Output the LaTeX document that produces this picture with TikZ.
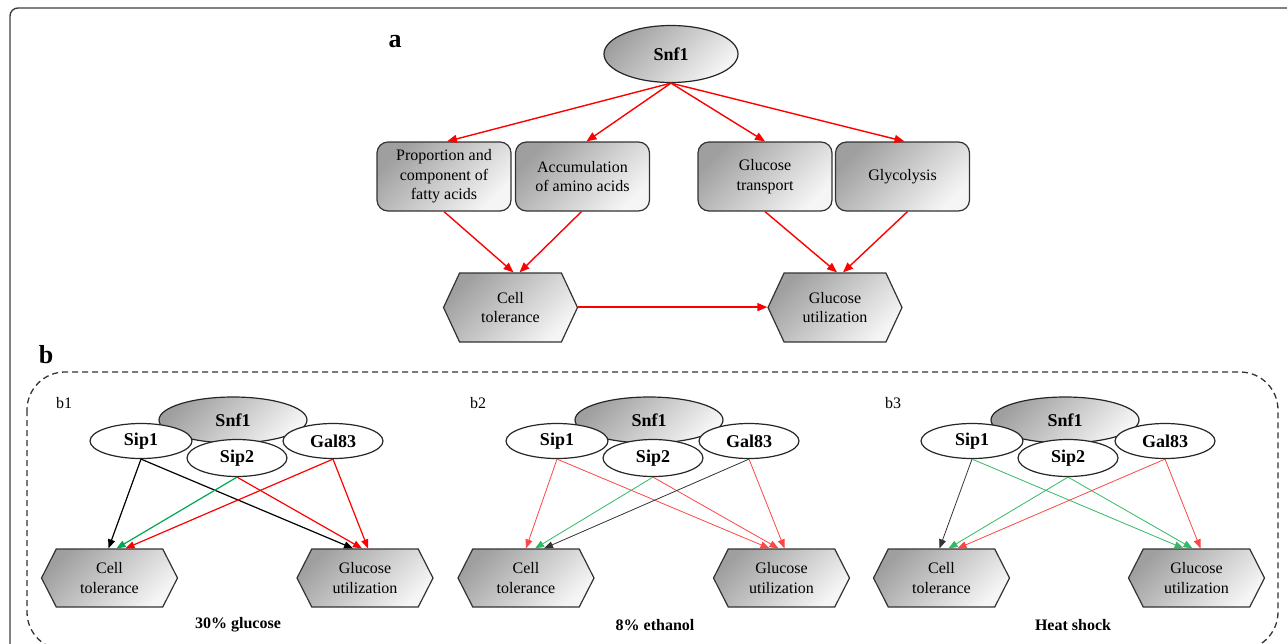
\documentclass[tikz,border=0pt]{standalone}
\usepackage{fontspec}
\setmainfont{Liberation Serif}
\usepackage{xcolor}
\usepackage{tikz}
\usetikzlibrary{positioning,shapes.geometric,shapes.symbols,arrows.meta}

\definecolor{linkred}{RGB}{255,0,0}
\definecolor{linkgreen}{RGB}{0,166,81}
\definecolor{lightred}{RGB}{255,70,70}
\definecolor{lightgreen}{RGB}{50,185,100}
\definecolor{framegray}{RGB}{128,128,128}

\begin{document}
\begin{tikzpicture}[x=1pt, y=-1pt,
  grayfill/.style={top color=gray!75, bottom color=gray!8, shading angle=45},
  roundbox/.style={grayfill, draw=black!80, line width=1.2pt, rounded corners=11pt, minimum width=134pt, minimum height=69pt, inner sep=0pt, align=center, font=\fontsize{16}{19.5}\selectfont},
  hexnode/.style={grayfill, signal, signal to=west and east, signal pointer angle=126, draw=black!80, line width=1.2pt, minimum width=136pt, minimum height=58pt, inner sep=0pt, align=center, font=\fontsize{16}{19.5}\selectfont},
  snfnode/.style={ellipse, grayfill, draw=black!85, line width=1.2pt, inner sep=0pt, font=\bfseries\fontsize{18}{20}\selectfont},
  subnode/.style={ellipse, fill=white, draw=black!85, line width=1.2pt, inner sep=0pt, minimum width=100pt, minimum height=35pt, font=\bfseries\fontsize{18}{20}\selectfont},
  redarrow/.style={-{Triangle[length=10pt,width=8pt]}, draw=linkred, fill=linkred, line width=1.4pt},
  linkbase/.style={-{Triangle[length=9pt,width=7pt]}, line width=1.2pt},
  thinlink/.style={linkbase, line width=0.8pt},
  panellabel/.style={font=\fontsize{16}{18}\selectfont},
  condlabel/.style={font=\bfseries\fontsize{16}{18}\selectfont}]

\useasboundingbox (0,0) rectangle (1287,643);
\clip (0,0) rectangle (1287,643);

% outer frame
\draw[black!75, line width=1.4pt, rounded corners=8pt] (30,8) -- (10,8) -- (10,650);
\draw[framegray, line width=2.4pt] (18,8) -- (1290,8);

% part a
\node[font=\bfseries\fontsize{26}{28}\selectfont] at (395, 42) (labA) {a};
\node[snfnode, minimum width=134pt, minimum height=57pt] at (671, 54) (snfA) {Snf1};
\node[roundbox] at (444, 176.5) (fatty) {Proportion and\\component of\\fatty acids};
\node[roundbox] at (582.5, 176.5) (amino) {Accumulation\\of amino acids};
\node[roundbox] at (765, 176.5) (transport) {Glucose\\transport};
\node[roundbox] at (902.5, 176.5) (glyco) {Glycolysis};
\node[hexnode, minimum width=134pt, minimum height=69pt, signal pointer angle=130] at (510.5, 307.5) (tolA) {Cell\\tolerance};
\node[hexnode, minimum width=134pt, minimum height=69pt, signal pointer angle=130] at (835, 307.5) (utilA) {Glucose\\utilization};
\draw[redarrow] ([yshift=0.4pt]tolA.east) -- ([yshift=0.4pt]utilA.west);
\draw[redarrow] (snfA.south) -- ([xshift=3pt]fatty.north);
\draw[redarrow] (snfA.south) -- ([xshift=4pt]amino.north);
\draw[redarrow] (snfA.south) -- (transport.north);
\draw[redarrow] (snfA.south) -- ([xshift=2pt]glyco.north);
\draw[redarrow] (fatty.south) -- ([xshift=3pt]tolA.north);
\draw[redarrow] ([xshift=-1pt]amino.south) -- ([xshift=9pt]tolA.north);
\draw[redarrow] (transport.south) -- ([xshift=2pt]utilA.north);
\draw[redarrow] ([xshift=5pt]glyco.south) -- ([xshift=8pt]utilA.north);

% part b
\node[font=\bfseries\fontsize{26}{28}\selectfont] at (46, 355) (labB) {b};
\draw[black!80, line width=1.3pt, dash pattern=on 6pt off 4pt, rounded corners=38pt] (27,372) rectangle (1278,650);

% b1: 30% glucose
\node[panellabel] at (64, 403) (labB1) {b1};
\node[snfnode, minimum width=148pt, minimum height=46pt] at (233, 420) (snf1) {Snf1};
\node[subnode, minimum width=102pt] at (141, 441) (sipa1) {Sip1};
\node[subnode] at (333, 441) (gal1) {Gal83};
\node[subnode, minimum height=37pt] at (237, 458) (sipb1) {Sip2};
\node[hexnode] at (109.5, 578) (tol1) {Cell\\tolerance};
\node[hexnode] at (365, 578) (util1) {Glucose\\utilization};
\node[condlabel] at (238, 625) (cond1) {30\% glucose};
\draw[linkbase, black] (sipa1.south) -- ([xshift=-1pt]tol1.north);
\draw[linkbase, black] (sipa1.south) -- ([xshift=-12pt]util1.north);
\draw[linkbase, linkgreen] (sipb1.south) -- ([xshift=7pt]tol1.north);
\draw[linkbase, linkred] (sipb1.south) -- ([xshift=-3pt]util1.north);
\draw[linkbase, linkred] (gal1.south) -- ([xshift=16pt]tol1.north);
\draw[linkbase, linkred] (gal1.south) -- ([xshift=3pt]util1.north);

% b2: 8% ethanol
\node[panellabel] at (478, 403) (labB2) {b2};
\node[snfnode, minimum width=148pt, minimum height=46pt] at (649, 420) (snf2) {Snf1};
\node[subnode, minimum width=102pt] at (557, 441) (sipa2) {Sip1};
\node[subnode] at (749, 441) (gal2) {Gal83};
\node[subnode, minimum height=37pt] at (653, 458) (sipb2) {Sip2};
\node[hexnode] at (526, 578) (tol2) {Cell\\tolerance};
\node[hexnode] at (781.5, 578) (util2) {Glucose\\utilization};
\node[condlabel] at (655, 625) (cond2) {8\% ethanol};
\draw[thinlink, lightred] (sipa2.south) -- ([xshift=0pt]tol2.north);
\draw[thinlink, lightred] (sipa2.south) -- ([xshift=-12pt]util2.north);
\draw[thinlink, lightgreen] (sipb2.south) -- ([xshift=9pt]tol2.north);
\draw[thinlink, lightred] (sipb2.south) -- ([xshift=-3pt]util2.north);
\draw[thinlink, black!80] (gal2.south) -- ([xshift=18pt]tol2.north);
\draw[thinlink, lightred] (gal2.south) -- ([xshift=3pt]util2.north);

% b3: heat shock
\node[panellabel] at (893, 403) (labB3) {b3};
\node[snfnode, minimum width=148pt, minimum height=46pt] at (1065, 420) (snf3) {Snf1};
\node[subnode, minimum width=102pt] at (972, 441) (sipa3) {Sip1};
\node[subnode] at (1165, 441) (gal3) {Gal83};
\node[subnode, minimum height=37pt] at (1068, 458) (sipb3) {Sip2};
\node[hexnode] at (941.5, 578) (tol3) {Cell\\tolerance};
\node[hexnode] at (1196.5, 578) (util3) {Glucose\\utilization};
\node[condlabel] at (1073, 625) (cond3) {Heat shock};
\draw[thinlink, black!80] (sipa3.south) -- ([xshift=-2pt]tol3.north);
\draw[thinlink, lightgreen] (sipa3.south) -- ([xshift=-13pt]util3.north);
\draw[thinlink, lightgreen] (sipb3.south) -- ([xshift=7pt]tol3.north);
\draw[thinlink, lightgreen] (sipb3.south) -- ([xshift=-4pt]util3.north);
\draw[thinlink, lightred] (gal3.south) -- ([xshift=16pt]tol3.north);
\draw[thinlink, lightred] (gal3.south) -- ([xshift=4pt]util3.north);

\end{tikzpicture}
\end{document}
